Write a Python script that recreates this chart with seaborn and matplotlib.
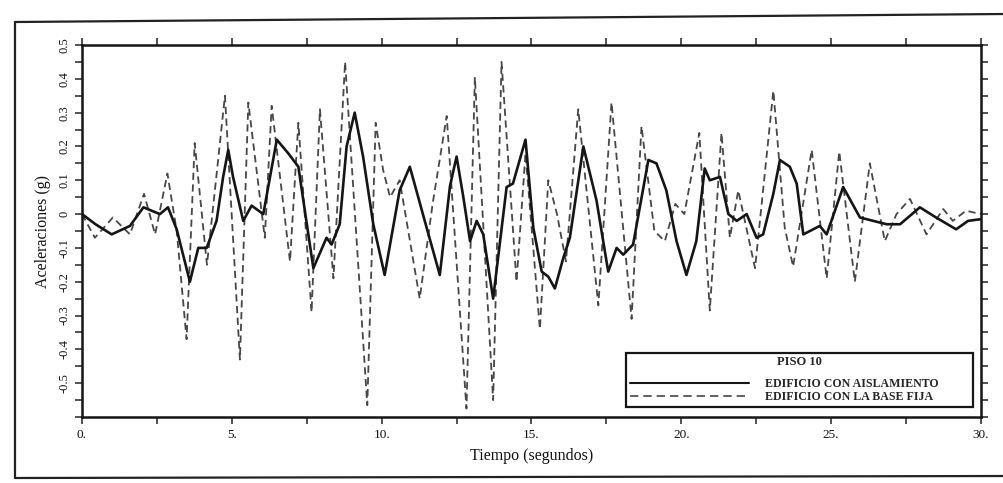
import numpy as np
import pandas as pd
import matplotlib
matplotlib.use("Agg")
import matplotlib.pyplot as plt
from matplotlib.lines import Line2D
import seaborn as sns

# Floor 10 acceleration records (g) versus time (s)
t_aislado = [0.0, 0.45, 0.99, 1.6, 2.05, 2.6, 2.87, 3.16, 3.6, 3.88, 4.16, 4.49,
             4.71, 4.88, 5.04, 5.38, 5.66, 6.05, 6.5, 6.88, 7.22, 7.72, 8.16, 8.33,
             8.6, 8.83, 9.1, 9.38, 9.72, 10.1, 10.6, 10.94, 11.5, 11.94, 12.28, 12.5,
             12.72, 12.95, 13.17, 13.39, 13.72, 14.17, 14.38, 14.8, 15.06, 15.34,
             15.56, 15.78, 16.06, 16.28, 16.73, 17.17, 17.56, 17.84, 18.06, 18.39,
             18.9, 19.17, 19.5, 19.84, 20.17, 20.5, 20.78, 20.95, 21.29, 21.57,
             21.85, 22.18, 22.51, 22.73, 23.07, 23.29, 23.62, 23.85, 24.07, 24.4,
             24.62, 24.85, 25.4, 25.96, 26.4, 26.85, 27.3, 27.96, 28.5, 29.17,
             29.57, 30.0]
a_aislado = [0.0, -0.03, -0.06, -0.035, 0.02, 0.0, 0.02, -0.045, -0.2, -0.1, -0.1, -0.02,
             0.11, 0.19, 0.11, -0.02, 0.025, 0.0, 0.22, 0.18, 0.14, -0.16, -0.07, -0.09,
             -0.03, 0.2, 0.3, 0.17, -0.03, -0.18, 0.07, 0.14, -0.04, -0.18, 0.083, 0.17,
             0.053, -0.08, -0.02, -0.06, -0.25, 0.08, 0.09, 0.22, -0.04, -0.17,
             -0.185, -0.22, -0.13, -0.07, 0.2, 0.04, -0.17, -0.1, -0.12, -0.09,
             0.16, 0.15, 0.07, -0.08, -0.18, -0.08, 0.135, 0.1, 0.11, 0.0,
             -0.02, 0.0, -0.07, -0.06, 0.06, 0.16, 0.14, 0.09, -0.06, -0.045,
             -0.035, -0.06, 0.08, -0.01, -0.02, -0.03, -0.03, 0.02, -0.01, -0.045,
             -0.02, -0.015]

t_fija = [0.0, 0.43, 1.03, 1.6, 2.07, 2.44, 2.85, 3.16, 3.49, 3.76, 4.17, 4.77,
          5.27, 5.55, 6.1, 6.33, 6.94, 7.22, 7.66, 7.94, 8.39, 8.78, 9.52, 9.8,
          10.05, 10.28, 10.6, 10.83, 11.27, 11.7, 12.17, 12.83, 13.11, 13.72, 14.0,
          14.5, 14.8, 15.28, 15.56, 15.85, 16.15, 16.56, 17.23, 17.67, 18.34, 18.67,
          19.1, 19.45, 19.8, 20.1, 20.6, 20.95, 21.34, 21.62, 21.9, 22.46, 23.07,
          23.45, 23.73, 24.35, 24.85, 25.27, 25.79, 26.29, 26.79, 27.18, 27.63,
          28.18, 28.74, 29.06, 29.5, 30.0]
a_fija = [0.0, -0.07, -0.01, -0.06, 0.06, -0.06, 0.12, -0.05, -0.37, 0.21, -0.15, 0.35,
          -0.43, 0.33, -0.07, 0.32, -0.14, 0.27, -0.29, 0.31, -0.19, 0.45, -0.565, 0.27,
          0.13, 0.05, 0.1, -0.02, -0.25, 0.03, 0.29, -0.575, 0.405, -0.55, 0.45,
          -0.2, 0.18, -0.34, 0.1, 0.0, -0.14, 0.31, -0.27, 0.33, -0.31, 0.26,
          -0.05, -0.08, 0.03, 0.0, 0.24, -0.285, 0.24, -0.07, 0.07, -0.16, 0.365,
          -0.04, -0.155, 0.19, -0.19, 0.185, -0.2, 0.15, -0.08, 0.0, 0.045,
          -0.06, 0.015, -0.02, 0.01, 0.0]

x_ticks = [0, 5, 10, 15, 20, 25, 30]
x_labels = ["0.", "5.", "10.", "15.", "20.", "25.", "30."]
y_ticks = [-0.5, -0.4, -0.3, -0.2, -0.1, 0.0, 0.1, 0.2, 0.3, 0.4, 0.5]
y_labels = ["-0.5", "-0.4", "-0.3", "-0.2", "-0.1", "0", "0.1", "0.2", "0.3", "0.4", "0.5"]

titulo_leyenda = "PISO 10"
serie_aislado = "EDIFICIO CON AISLAMIENTO"
serie_fija = "EDIFICIO CON LA BASE FIJA"

sns.set_style("ticks")
plt.rcParams["font.family"] = ["Liberation Serif", "DejaVu Serif"]

W, H = 1004, 483
fig = plt.figure(figsize=(W / 100, H / 100), dpi=100)
fig.patch.set_facecolor("white")

# outer frame of the figure panel
frame_kw = dict(color="#222222", lw=1.6, transform=fig.transFigure)
fig.add_artist(Line2D([15 / W, 15 / W], [1 - 478 / H, 1 - 22 / H], **frame_kw))
fig.add_artist(Line2D([15 / W, 1.0], [1 - 22 / H, 1 - 14 / H], **frame_kw))
fig.add_artist(Line2D([15 / W, 1.0], [1 - 478 / H, 1 - 476 / H], **frame_kw))

ax = fig.add_axes([82 / W, 1 - 417 / H, (981 - 82) / W, (417 - 45) / H])

df_fija = pd.DataFrame({"t": t_fija, "a": a_fija})
df_ais = pd.DataFrame({"t": t_aislado, "a": a_aislado})

sns.lineplot(data=df_fija, x="t", y="a", ax=ax, color="#474747", linewidth=1.3,
             estimator=None, sort=False)
ax.lines[-1].set_dashes((4, 2.5))
sns.lineplot(data=df_ais, x="t", y="a", ax=ax, color="#151515", linewidth=1.9,
             estimator=None, sort=False)

ax.set_xlim(0, 30)
ax.set_ylim(-0.6, 0.5)

ax.set_xticks(x_ticks)
ax.set_xticklabels(x_labels, fontsize=9.5)
ax.set_xticks(np.arange(2.5, 30, 5), minor=True)
ax.set_yticks(y_ticks)
ax.set_yticklabels(y_labels, fontsize=9)
ax.set_yticks(np.arange(-0.6, 0.5, 0.05), minor=True)
for lab in ax.get_yticklabels():
    lab.set_rotation(90)
    lab.set_va("center")

ax.tick_params(which="both", direction="out", top=True, right=True,
               length=5, width=1.1, color="#222222", labelcolor="#111111")
ax.tick_params(axis="x", pad=4)
ax.tick_params(axis="y", pad=3)

for sp in ax.spines.values():
    sp.set_linewidth(1.8)
    sp.set_color("#151515")

ax.set_xlabel("Tiempo (segundos)", fontsize=11.5, labelpad=5, color="#111111")
ax.set_ylabel("Aceleraciones (g)", fontsize=11.5, labelpad=6, color="#111111")

# legend box stretched across its anchor rectangle (axes fractions)
x0 = (626 - 82) / 899
w = (973 - 626) / 899
handles = [Line2D([], [], color="#151515", lw=1.5),
           Line2D([], [], color="#474747", lw=1.2, dashes=(5, 3))]
leg = ax.legend(handles, [serie_aislado, serie_fija], title=titulo_leyenda,
                loc="lower left", bbox_to_anchor=(x0, 0.027, w, 0.15),
                mode="expand", borderaxespad=0,
                fancybox=False, framealpha=1, edgecolor="#151515",
                handlelength=10.0, handletextpad=1.35, labelspacing=0.12,
                borderpad=0.3,
                prop={"size": 8.6, "weight": "bold", "family": "Liberation Serif"},
                title_fontproperties={"size": 9, "weight": "bold",
                                      "family": "Liberation Serif"})
leg.get_frame().set_linewidth(1.6)
leg._legend_box.sep = 7

fig.savefig("out.png", dpi=100, facecolor="white")
